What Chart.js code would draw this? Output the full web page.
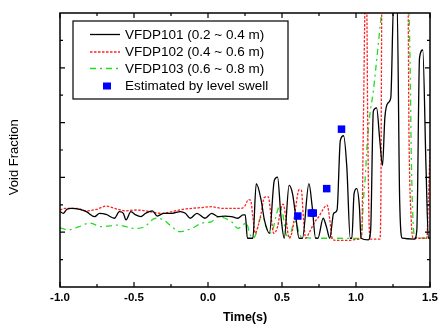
<!DOCTYPE html>
<html>
<head>
<meta charset="utf-8">
<script src="https://cdn.jsdelivr.net/npm/chart.js@4.4.0/dist/chart.umd.min.js"></script>
<style>
  html, body { margin: 0; padding: 0; background: #fff; }
  #wrap { width: 442px; height: 325px; }
</style>
</head>
<body>
<div id="wrap"><canvas id="chart" width="442" height="325"></canvas></div>
<script>
// ---------- Dati ----------
const seriesLabels = [
  "VFDP101 (0.2 ~ 0.4 m)",
  "VFDP102 (0.4 ~ 0.6 m)",
  "VFDP103 (0.6 ~ 0.8 m)",
  "Estimated by level swell",
];

const t101 = [-1.0, -0.978, -0.955, -0.922, -0.866, -0.822, -0.766, -0.733, -0.688, -0.632, -0.599, -0.572, -0.554, -0.521, -0.488, -0.454, -0.421, -0.376, -0.343, -0.298, -0.242, -0.187, -0.153, -0.120, -0.075, -0.020, 0.025, 0.069, 0.114, 0.159, 0.203, 0.237, 0.252, 0.266, 0.303, 0.326, 0.359, 0.381, 0.415, 0.448, 0.470, 0.493, 0.515, 0.548, 0.571, 0.593, 0.615, 0.638, 0.682, 0.704, 0.727, 0.743, 0.778, 0.800, 0.823, 0.849, 0.872, 0.894, 0.916, 0.938, 0.961, 0.972, 0.987, 1.005, 1.023, 1.034, 1.083, 1.099, 1.117, 1.139, 1.161, 1.179, 1.195, 1.217, 1.235, 1.255, 1.277, 1.295, 1.313, 1.395, 1.411, 1.429, 1.451, 1.473, 1.489, 1.5];
const v101 = [0.075, 0.069, 0.083, 0.087, 0.083, 0.075, 0.057, 0.069, 0.065, 0.051, 0.075, 0.069, 0.045, 0.075, 0.063, 0.057, 0.069, 0.078, 0.059, 0.069, 0.069, 0.075, 0.069, 0.051, 0.069, 0.051, 0.069, 0.057, 0.059, 0.057, 0.051, 0.063, 0.063, -0.022, -0.022, 0.177, 0.117, 0.045, -0.004, 0.189, 0.201, 0.057, -0.022, 0.171, 0.141, 0.057, -0.022, -0.022, 0.177, 0.093, -0.022, -0.022, 0.051, 0.020, -0.022, 0.069, 0.081, 0.334, 0.352, 0.237, -0.022, -0.022, 0.141, 0.159, 0.093, -0.022, -0.028, 0.008, 0.442, 0.454, 0.334, 0.243, 0.418, 0.472, 0.490, 0.85, 0.85, 0.117, -0.022, -0.025, 0.008, 0.635, 0.665, 0.237, -0.022, -0.022];

const t102 = [-1.0, -0.967, -0.889, -0.822, -0.755, -0.688, -0.632, -0.554, -0.488, -0.421, -0.354, -0.309, -0.242, -0.176, -0.109, -0.042, 0.025, 0.092, 0.159, 0.225, 0.248, 0.274, 0.288, 0.303, 0.319, 0.337, 0.359, 0.381, 0.408, 0.426, 0.444, 0.470, 0.493, 0.508, 0.528, 0.548, 0.571, 0.593, 0.615, 0.631, 0.644, 0.660, 0.682, 0.716, 0.749, 0.782, 0.805, 0.823, 0.838, 0.860, 0.938, 1.027, 1.039, 1.050, 1.063, 1.072, 1.079, 1.090, 1.099, 1.161, 1.168, 1.175, 1.351, 1.358, 1.373, 1.389, 1.478, 1.489, 1.5];
const v102 = [0.081, 0.087, 0.087, 0.078, 0.083, 0.095, 0.087, 0.078, 0.081, 0.078, 0.071, 0.069, 0.075, 0.083, 0.087, 0.090, 0.093, 0.087, 0.087, 0.087, 0.095, 0.119, 0.117, 0.057, -0.004, 0.020, 0.069, 0.127, 0.129, 0.057, -0.004, 0.020, 0.087, 0.102, 0.045, -0.022, 0.008, 0.093, 0.155, 0.153, 0.057, -0.022, -0.004, 0.033, 0.057, 0.087, 0.099, 0.045, -0.022, -0.030, -0.030, -0.025, -0.004, 0.406, 0.85, 0.85, 0.406, 0.008, -0.025, -0.025, 0.117, 0.85, 0.85, 0.358, 0.045, -0.022, -0.022, 0.117, 0.298];

const t103 = [-1.0, -0.945, -0.871, -0.799, -0.721, -0.610, -0.499, -0.432, -0.354, -0.298, -0.243, -0.193, -0.109, -0.042, 0.021, 0.070, 0.159, 0.203, 0.230, 0.259, 0.281, 0.303, 0.326, 0.348, 0.370, 0.393, 0.415, 0.437, 0.459, 0.482, 0.504, 0.526, 0.548, 0.571, 0.593, 0.615, 0.638, 0.738, 0.827, 1.028, 1.039, 1.050, 1.061, 1.077, 1.094, 1.117, 1.134, 1.150, 1.166, 1.179, 1.353, 1.366, 1.373, 1.384, 1.398, 1.5];
const v103 = [0.016, 0.008, 0.020, 0.033, 0.020, 0.026, 0.014, 0.019, 0.051, 0.044, 0.019, 0.002, 0.014, 0.033, 0.038, 0.056, 0.038, 0.014, 0.023, 0.035, -0.004, -0.022, -0.004, 0.045, 0.057, 0.020, -0.004, 0.008, 0.057, 0.093, 0.069, -0.004, -0.022, 0.020, 0.039, -0.004, -0.018, -0.022, -0.022, -0.023, -0.004, 0.117, 0.189, 0.334, 0.430, 0.514, 0.599, 0.683, 0.767, 0.82, 0.85, 0.599, 0.298, 0.057, -0.018, -0.022];

// stime da level swell
const tEst = [0.607, 0.698, 0.711, 0.802, 0.902];
const vEst = [0.059, 0.070, 0.070, 0.159, 0.376];

// tacche assi
const xMajorTicks = [-1.0, -0.5, 0.0, 0.5, 1.0, 1.5];
const xTickLabels = ["-1.0", "-0.5", "0.0", "0.5", "1.0", "1.5"];
const xMinorTicks = [-0.75, -0.25, 0.25, 0.75, 1.25];
const yMajorTicks = [0.0, 0.2, 0.4, 0.6];
const yMinorTicks = [-0.1, 0.1, 0.3, 0.5, 0.7];

// ---------- Utils ----------
const toPoints = (ts, vs) => ts.map((t, i) => ({ x: t, y: vs[i] }));
const FONT = '"Liberation Sans", Arial, sans-serif';

// ---------- Legenda + cornice con tacche interne ----------
const frameTicks = {
  id: "frameTicks",
  afterDatasetsDraw(chart) {
    const { ctx, chartArea: a, scales: { x, y } } = chart;
    ctx.save();

    // legenda dentro il grafico
    const lx = a.left + 13, ly = a.top + 8, lw = 215, lh = 78;
    ctx.fillStyle = "#fff";
    ctx.fillRect(lx, ly, lw, lh);
    ctx.strokeStyle = "#000";
    ctx.lineWidth = 1.2;
    ctx.strokeRect(lx, ly, lw, lh);

    const rows = [13.5, 31, 47.5, 65];
    ctx.font = `13.5px ${FONT}`;
    ctx.textBaseline = "middle";
    chart.data.datasets.forEach((ds, i) => {
      const ry = ly + rows[i];
      if (ds.showLine === false) {
        ctx.fillStyle = ds.backgroundColor;
        ctx.fillRect(lx + 30, ry - 3.5, 8, 7);
      } else {
        ctx.strokeStyle = ds.borderColor;
        ctx.lineWidth = ds.borderWidth;
        ctx.setLineDash(ds.borderDash || []);
        ctx.beginPath();
        ctx.moveTo(lx + 17, ry);
        ctx.lineTo(lx + 47, ry);
        ctx.stroke();
        ctx.setLineDash([]);
      }
      ctx.fillStyle = "#000";
      ctx.fillText(ds.label, lx + 52, ry + 0.5);
    });

    // cornice
    ctx.strokeStyle = "#000";
    ctx.lineWidth = 1.5;
    ctx.strokeRect(a.left, a.top, a.right - a.left, a.bottom - a.top);

    ctx.lineWidth = 1.2;
    ctx.beginPath();
    const xt = (vals, len) => vals.forEach((v) => {
      const px = x.getPixelForValue(v);
      ctx.moveTo(px, a.bottom); ctx.lineTo(px, a.bottom - len);
      ctx.moveTo(px, a.top); ctx.lineTo(px, a.top + len);
    });
    const yt = (vals, len) => vals.forEach((v) => {
      const py = y.getPixelForValue(v);
      ctx.moveTo(a.left, py); ctx.lineTo(a.left + len, py);
      ctx.moveTo(a.right, py); ctx.lineTo(a.right - len, py);
    });
    xt(xMajorTicks, 5);
    xt(xMinorTicks, 3);
    yt(yMajorTicks, 5);
    yt(yMinorTicks, 3);
    ctx.stroke();
    ctx.restore();
  },
};

// ---------- Grafico ----------
new Chart(document.getElementById("chart"), {
  type: "line",
  data: {
    datasets: [
      {
        label: seriesLabels[0],
        data: toPoints(t101, v101),
        borderColor: "#000000",
        borderWidth: 1.3,
        order: 1,
      },
      {
        label: seriesLabels[1],
        data: toPoints(t102, v102),
        borderColor: "#ff2020",
        borderWidth: 1.3,
        borderDash: [2.5, 1.5],
        order: 2,
      },
      {
        label: seriesLabels[2],
        data: toPoints(t103, v103),
        borderColor: "#22dd22",
        borderWidth: 1.3,
        borderDash: [6, 4, 2, 4],
        order: 3,
      },
      {
        label: seriesLabels[3],
        data: toPoints(tEst, vEst),
        showLine: false,
        pointStyle: "rect",
        pointRadius: 5.3,
        pointBorderWidth: 0,
        backgroundColor: "#0000ff",
        borderColor: "#0000ff",
        order: 0,
      },
    ],
  },
  options: {
    responsive: false,
    animation: false,
    events: [],
    elements: {
      line: { cubicInterpolationMode: "monotone", fill: false },
      point: { radius: 0 },
    },
    layout: { padding: { top: 13, right: 8, left: 0, bottom: 0 } },
    plugins: { legend: { display: false }, tooltip: { enabled: false } },
    scales: {
      x: {
        type: "linear",
        min: -1,
        max: 1.5,
        afterBuildTicks: (s) => { s.ticks = xMajorTicks.map((v) => ({ value: v })); },
        ticks: {
          callback: (v, i) => xTickLabels[i],
          color: "#000",
          font: { family: FONT, size: 11.5, weight: "bold" },
          padding: 4,
          maxRotation: 0,
          autoSkip: false,
        },
        grid: { display: false, drawTicks: false },
        border: { display: false },
        title: {
          display: true,
          text: "Time(s)",
          color: "#000",
          font: { family: FONT, size: 12.5, weight: "bold" },
          padding: 0,
        },
        afterFit: (s) => { s.height = 38; },
      },
      y: {
        type: "linear",
        min: -0.2,
        max: 0.8,
        ticks: { display: false },
        grid: { display: false, drawTicks: false },
        border: { display: false },
        title: {
          display: true,
          text: "Void Fraction    ",
          color: "#000",
          font: { family: FONT, size: 13 },
          padding: { top: 7, bottom: 0 },
        },
        afterFit: (s) => { s.width = 60; },
      },
    },
  },
  plugins: [frameTicks],
});
</script>
</body>
</html>
